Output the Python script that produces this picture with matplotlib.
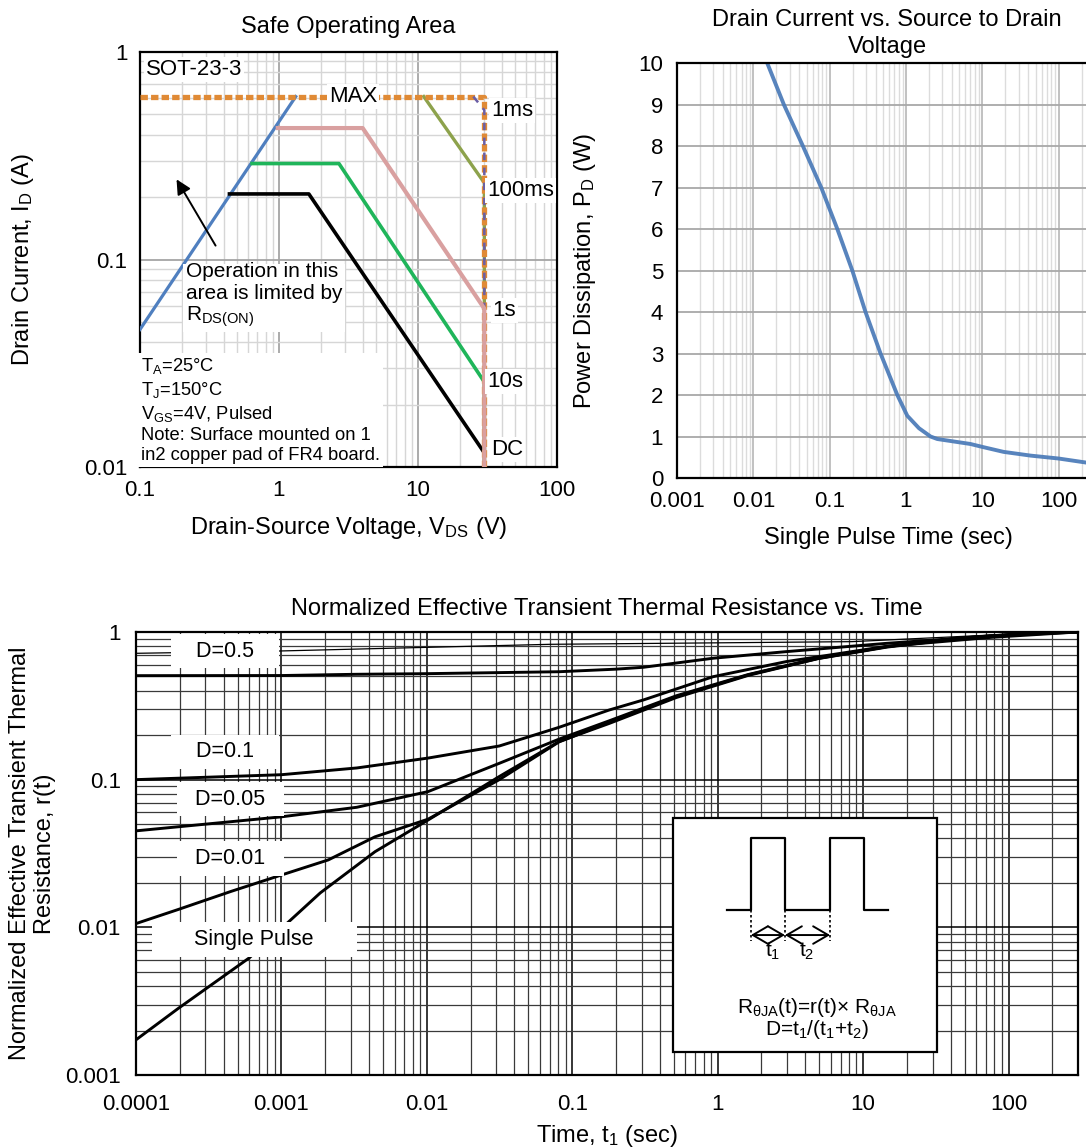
import matplotlib
matplotlib.use("Agg")
import matplotlib.pyplot as plt
from matplotlib.ticker import NullFormatter
from matplotlib.patches import Rectangle

plt.rcParams['font.family'] = ['Liberation Sans', 'DejaVu Sans']
plt.rcParams['mathtext.fontset'] = 'custom'
plt.rcParams['mathtext.rm'] = 'Liberation Sans'
plt.rcParams['mathtext.it'] = 'Liberation Sans:italic'
plt.rcParams['mathtext.bf'] = 'Liberation Sans:bold'

# ---------------- data: safe operating area ----------------
rds_v = [0.1, 1.32]
rds_i = [0.046, 0.61]
max_v = [0.1, 30, 30]
max_i = [0.61, 0.61, 0.01]
ms1_v = [25, 30, 30]
ms1_i = [0.61, 0.525, 0.01]
ms100_v = [11, 30, 30]
ms100_i = [0.61, 0.234, 0.01]
s1_v = [0.98, 4.0, 30, 30]
s1_i = [0.43, 0.43, 0.058, 0.01]
s10_v = [0.64, 2.7, 30, 30]
s10_i = [0.29, 0.29, 0.0257, 0.01]
dc_v = [0.44, 1.64, 30]
dc_i = [0.207, 0.207, 0.0117]
soa_xticks = [0.1, 1, 10, 100]
soa_xlabels = ['0.1', '1', '10', '100']
soa_yticks = [0.01, 0.1, 1]
soa_ylabels = ['0.01', '0.1', '1']

# ---------------- data: single pulse power ----------------
pulse_t = [0.0152, 0.0251, 0.0446, 0.0775, 0.126, 0.198, 0.295, 0.464, 0.77,
           1.04, 1.48, 2.1, 2.57, 4.25, 7.0, 10, 19, 43, 100, 234, 400]
pulse_p = [10, 9, 8, 7, 6, 5, 4, 3, 2,
           1.5, 1.2, 1.0, 0.94, 0.88, 0.82, 0.75, 0.63, 0.54, 0.47, 0.37, 0.33]
pd_xticks = [0.001, 0.01, 0.1, 1, 10, 100]
pd_xlabels = ['0.001', '0.01', '0.1', '1', '10', '100']

# ---------------- data: transient thermal resistance ----------------
thin_t = [1e-4, 0.00095, 0.07, 8.4, 76.5, 300]
thin_r = [0.717, 0.743, 0.825, 0.86, 0.954, 1.0]
d05_t = [1e-4, 1e-3, 0.0033, 0.01, 0.081, 0.2, 0.31, 0.93, 2.96, 14.6, 76.5, 300]
d05_r = [0.506, 0.507, 0.517, 0.522, 0.538, 0.56, 0.577, 0.664, 0.736, 0.838, 0.94, 1.0]
d01_t = [1e-4, 0.001, 0.0033, 0.0102, 0.0315, 0.081, 0.179, 0.31, 0.93, 2.96, 14.6, 76.5, 300]
d01_r = [0.1, 0.108, 0.12, 0.14, 0.169, 0.226, 0.296, 0.347, 0.498, 0.63, 0.80, 0.92, 1.0]
d005_t = [1e-4, 0.001, 0.0033, 0.0102, 0.0315, 0.081, 0.179, 0.52, 1.62, 4.9, 14.6, 44.5, 135, 300]
d005_r = [0.045, 0.056, 0.065, 0.083, 0.129, 0.188, 0.25, 0.37, 0.515, 0.665, 0.797, 0.907, 0.98, 1.0]
d001_t = [1e-4, 0.000195, 0.00045, 0.001, 0.0021, 0.0044, 0.0102, 0.0315, 0.081,
          0.179, 0.52, 1.62, 4.9, 14.6, 44.5, 135, 300]
d001_r = [0.0106, 0.0132, 0.0175, 0.0226, 0.0286, 0.041, 0.054, 0.1, 0.18,
          0.245, 0.365, 0.512, 0.662, 0.795, 0.905, 0.978, 1.0]
sp_t = [1e-4, 0.000195, 0.0006, 0.00185, 0.0044, 0.0102, 0.0315, 0.081,
        0.179, 0.52, 1.62, 4.9, 14.6, 44.5, 135, 300]
sp_r = [0.00173, 0.00282, 0.0062, 0.0171, 0.0325, 0.0533, 0.105, 0.181,
        0.24, 0.36, 0.508, 0.66, 0.79, 0.9, 0.975, 1.0]
th_xticks = [1e-4, 1e-3, 0.01, 0.1, 1, 10, 100]
th_xlabels = ['0.0001', '0.001', '0.01', '0.1', '1', '10', '100']
th_yticks = [0.001, 0.01, 0.1, 1]
th_ylabels = ['0.001', '0.01', '0.1', '1']

fig = plt.figure(figsize=(10.86, 11.48), dpi=100)

white = dict(facecolor='white', edgecolor='none', pad=1.5)

# ======== Safe operating area ========
ax1 = fig.add_axes([0.1289, 0.5932, 0.384, 0.3615])
ax1.set_xscale('log')
ax1.set_yscale('log')
ax1.set_xlim(0.1, 100)
ax1.set_ylim(0.01, 1)
ax1.grid(which='major', color='#a5a5a5', lw=1.3)
ax1.grid(which='minor', color='#d6d6d6', lw=1.0)
ax1.set_axisbelow(True)

ax1.plot(rds_v, rds_i, color='#4f7fbf', lw=2.3, zorder=3)
ax1.plot(dc_v, dc_i, color='black', lw=2.6, zorder=3)
ax1.plot(s10_v, s10_i, color='#1fb55a', lw=2.6, zorder=3)
ax1.plot(ms100_v, ms100_i, color='#8da24c', lw=2.4, zorder=3)
ax1.plot(max_v, max_i, color='#e08a35', lw=3.8, linestyle=(0, (1.4, 0.6)), zorder=4)
ax1.plot(ms1_v, ms1_i, color='#6a5ea6', lw=1.8, linestyle=(0, (3, 3)), zorder=5)
ax1.plot(s1_v, s1_i, color='#d9a0a0', lw=3.0, zorder=6)

ax1.annotate('', xy=(0.179, 0.25), xytext=(0.358, 0.1136),
             arrowprops=dict(arrowstyle='-|>', color='black', lw=1.4,
                             mutation_scale=22), zorder=7)

ax1.text(0.11, 0.82, 'SOT-23-3', fontsize=16, va='center', ha='left', bbox=white, zorder=8)
ax1.text(3.4, 0.61, 'MAX', fontsize=16, va='center', ha='center', bbox=white, zorder=8)
ax1.text(33.5, 0.52, '1ms', fontsize=16, va='center', ha='left', bbox=white, zorder=8)
ax1.text(31.3, 0.214, '100ms', fontsize=16, va='center', ha='left', bbox=white, zorder=8)
ax1.text(34.4, 0.057, '1s', fontsize=16, va='center', ha='left', bbox=white, zorder=8)
ax1.text(31.3, 0.0257, '10s', fontsize=16, va='center', ha='left', bbox=white, zorder=8)
ax1.text(33.5, 0.0121, 'DC', fontsize=16, va='center', ha='left', bbox=white, zorder=8)
ax1.text(0.214, 0.097, 'Operation in this\narea is limited by\nR$_{\\mathrm{DS(ON)}}$',
         fontsize=15, va='top', ha='left', linespacing=1.15,
         bbox=dict(facecolor='white', edgecolor='none', pad=2), zorder=8)
ax1.text(0.102, 0.0103,
         'T$_{\\mathrm{A}}$=25°C\nT$_{\\mathrm{J}}$=150°C\nV$_{\\mathrm{GS}}$=4V, Pulsed\n'
         'Note: Surface mounted on 1\nin2 copper pad of FR4 board.',
         fontsize=13.2, va='bottom', ha='left', linespacing=1.25,
         bbox=dict(facecolor='white', edgecolor='none', pad=2), zorder=8)

ax1.set_xticks(soa_xticks, soa_xlabels)
ax1.set_yticks(soa_yticks, soa_ylabels)
ax1.xaxis.set_minor_formatter(NullFormatter())
ax1.yaxis.set_minor_formatter(NullFormatter())
ax1.tick_params(which='both', length=0, labelsize=16)
ax1.tick_params(axis='x', pad=9)
ax1.tick_params(axis='y', pad=9)
for s in ax1.spines.values():
    s.set_linewidth(1.6)
ax1.set_title('Safe Operating Area', fontsize=17, pad=14)
ax1.set_xlabel('Drain-Source Voltage, V$_{\\mathrm{DS}}$ (V)', fontsize=17, va='center')
ax1.xaxis.set_label_coords(0.5, -0.147)
ax1.set_ylabel('Drain Current, I$_{\\mathrm{D}}$ (A)', fontsize=17, va='center')
ax1.yaxis.set_label_coords(-0.28, 0.5)

# ======== Single pulse power ========
ax2 = fig.add_axes([0.6234, 0.5836, 0.4217, 0.3615])
ax2.set_xscale('log')
ax2.set_xlim(0.001, 1000)
ax2.set_ylim(0, 10)
ax2.grid(which='major', axis='y', color='#a8a8a8', lw=1.3)
ax2.grid(which='major', axis='x', color='#b0b0b0', lw=1.1)
ax2.grid(which='minor', axis='x', color='#dcdcdc', lw=1.0)
ax2.set_axisbelow(True)
ax2.plot(pulse_t, pulse_p, color='#4a7ab8', lw=2.8, alpha=0.92, solid_capstyle='round')
ax2.set_xticks(pd_xticks, pd_xlabels)
ax2.set_yticks(range(0, 11))
ax2.xaxis.set_minor_formatter(NullFormatter())
ax2.tick_params(which='both', length=0, labelsize=16)
ax2.tick_params(axis='x', pad=9)
ax2.tick_params(axis='y', pad=10)
for s in ax2.spines.values():
    s.set_linewidth(1.6)
ax2.set_title('Drain Current vs. Source to Drain\nVoltage', fontsize=17,
              x=0.459, pad=7, linespacing=1.3)
ax2.set_xlabel('Single Pulse Time (sec)', fontsize=17, va='center')
ax2.xaxis.set_label_coords(0.461, -0.145)
ax2.set_ylabel('Power Dissipation, P$_{\\mathrm{D}}$ (W)', fontsize=17, va='center')
ax2.yaxis.set_label_coords(-0.2, 0.5)

# ======== Transient thermal resistance ========
ax3 = fig.add_axes([0.1252, 0.0636, 0.8674, 0.3859])
ax3.set_xscale('log')
ax3.set_yscale('log')
ax3.set_xlim(1e-4, 300)
ax3.set_ylim(0.001, 1)
ax3.grid(which='major', color='black', lw=1.1)
ax3.grid(which='minor', color='#3a3a3a', lw=0.9)
ax3.set_axisbelow(True)

ax3.plot(thin_t, thin_r, color='black', lw=0.9, zorder=3)
for tt, rr in [(d05_t, d05_r), (d01_t, d01_r), (d005_t, d005_r),
               (d001_t, d001_r), (sp_t, sp_r)]:
    ax3.plot(tt, rr, color='black', lw=2.1, zorder=3, solid_joinstyle='round')

lbl = dict(facecolor='white', edgecolor='none', pad=5)
ax3.text(4.1e-4, 0.743, '   D=0.5   ', fontsize=15.5, ha='center', va='center', bbox=lbl, zorder=6)
ax3.text(4.1e-4, 0.154, '   D=0.1   ', fontsize=15.5, ha='center', va='center', bbox=lbl, zorder=6)
ax3.text(4.47e-4, 0.0739, '  D=0.05  ', fontsize=15.5, ha='center', va='center', bbox=lbl, zorder=6)
ax3.text(4.47e-4, 0.0294, '  D=0.01  ', fontsize=15.5, ha='center', va='center', bbox=lbl, zorder=6)
ax3.text(6.5e-4, 0.00824, '      Single Pulse      ', fontsize=15.5, ha='center', va='center',
         bbox=lbl, zorder=6)

ax3.set_xticks(th_xticks, th_xlabels)
ax3.set_yticks(th_yticks, th_ylabels)
ax3.xaxis.set_minor_formatter(NullFormatter())
ax3.yaxis.set_minor_formatter(NullFormatter())
ax3.tick_params(which='both', length=0, labelsize=16)
ax3.tick_params(axis='x', pad=14)
ax3.tick_params(axis='y', pad=11)
for s in ax3.spines.values():
    s.set_linewidth(1.6)
ax3.set_title('Normalized Effective Transient Thermal Resistance vs. Time', fontsize=17, pad=12)
ax3.set_xlabel('Time, t$_{\\mathrm{1}}$ (sec)', fontsize=17, va='center')
ax3.xaxis.set_label_coords(0.5, -0.137)
ax3.set_ylabel('Normalized Effective Transient Thermal\nResistance, r(t)', fontsize=17,
               va='center', linespacing=1.15)
ax3.yaxis.set_label_coords(-0.11, 0.5)

# inset: duty-cycle pulse sketch
pulse_x = [0.2045, 0.295, 0.295, 0.424, 0.424, 0.595, 0.595, 0.723, 0.723, 0.814]
pulse_y = [0.607, 0.607, 0.915, 0.915, 0.607, 0.607, 0.915, 0.915, 0.607, 0.607]
mark_x = [0.295, 0.424, 0.595]

ax4 = fig.add_axes([0.6197, 0.0836, 0.2431, 0.2038])
ax4.set_xlim(0, 1)
ax4.set_ylim(0, 1)
ax4.axis('off')
ax4.add_patch(Rectangle((0, 0), 1, 1, transform=ax4.transAxes, facecolor='white',
                        edgecolor='black', lw=1.6, clip_on=False))
ax4.plot(pulse_x, pulse_y, color='black', lw=1.6)
for mx in mark_x:
    ax4.plot([mx, mx], [0.607, 0.475], color='black', lw=1.2, linestyle=(0, (1.5, 1.5)))
arrow_style = dict(arrowstyle='<->,head_length=0.6,head_width=0.35', color='black',
                   lw=1.4, mutation_scale=18, shrinkA=0, shrinkB=0)
ax4.annotate('', xy=(mark_x[0], 0.5), xytext=(mark_x[1], 0.5), arrowprops=arrow_style)
ax4.annotate('', xy=(mark_x[1], 0.5), xytext=(mark_x[2], 0.5), arrowprops=arrow_style)
ax4.text(0.379, 0.43, 't$_{\\mathrm{1}}$', fontsize=15, ha='center', va='center')
ax4.text(0.508, 0.43, 't$_{\\mathrm{2}}$', fontsize=15, ha='center', va='center')
ax4.text(0.545, 0.19, 'R$_{\\mathrm{θJA}}$(t)=r(t)× R$_{\\mathrm{θJA}}$', fontsize=15,
         ha='center', va='center')
ax4.text(0.545, 0.095, 'D=t$_{\\mathrm{1}}$/(t$_{\\mathrm{1}}$+t$_{\\mathrm{2}}$)', fontsize=15,
         ha='center', va='center')

fig.savefig('out.png', dpi=100)
